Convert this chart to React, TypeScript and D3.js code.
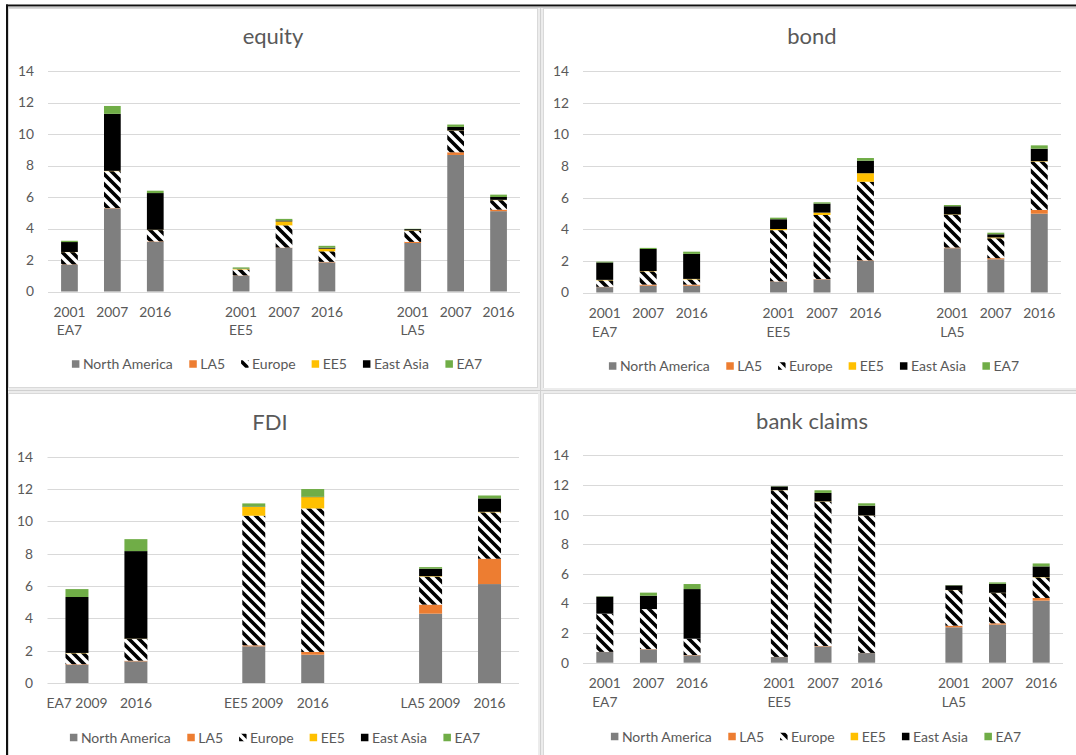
import React from "react";
import * as d3 from "d3";

// Source regions (stack order, bottom to top)
const SERIES = ["North America", "LA5", "Europe", "EE5", "East Asia", "EA7"];
const SERIES_FILL = ["#7f7f7f", "#ed7d31", "url(#europeStripes)", "#ffc000", "#000000", "#70ad47"];

// Destination groups and years on the category axis
const REGIONS = ["EA7", "EE5", "LA5"];
const YEARS_PORTFOLIO = ["2001", "2007", "2016"];
const YEARS_FDI = ["2009", "2016"];
const Y_TICKS = [0, 2, 4, 6, 8, 10, 12, 14];

// Values are listed EA7 (years...), EE5 (years...), LA5 (years...)
// equity
const equityNorthAmerica = [1.7, 5.28, 3.15, 1.0, 2.77, 1.85, 3.08, 8.67, 5.1];
const equityLA5 = [0.02, 0.02, 0.03, 0.02, 0.02, 0.03, 0.07, 0.17, 0.1];
const equityEurope = [0.78, 2.34, 0.72, 0.38, 1.41, 0.67, 0.7, 1.36, 0.6];
const equityEE5 = [0.01, 0.02, 0.02, 0.03, 0.25, 0.17, 0.03, 0.02, 0.02];
const equityEastAsia = [0.63, 3.62, 2.33, 0.02, 0.06, 0.06, 0.08, 0.23, 0.18];
const equityEA7 = [0.08, 0.5, 0.15, 0.08, 0.1, 0.12, 0.02, 0.15, 0.15];

// bond
const bondNorthAmerica = [0.34, 0.43, 0.43, 0.68, 0.83, 2.0, 2.8, 2.1, 4.98];
const bondLA5 = [0.02, 0.07, 0.07, 0.02, 0.02, 0.03, 0.04, 0.07, 0.24];
const bondEurope = [0.41, 0.84, 0.33, 3.24, 4.05, 4.97, 2.06, 1.26, 3.05];
const bondEE5 = [0.03, 0.02, 0.03, 0.07, 0.15, 0.54, 0.03, 0.05, 0.03];
const bondEastAsia = [1.1, 1.39, 1.58, 0.62, 0.57, 0.79, 0.52, 0.2, 0.79];
const bondEA7 = [0.05, 0.07, 0.14, 0.1, 0.08, 0.17, 0.08, 0.1, 0.21];

// FDI
const fdiNorthAmerica = [1.13, 1.34, 2.27, 1.75, 4.29, 6.12];
const fdiLA5 = [0.03, 0.04, 0.06, 0.17, 0.56, 1.57];
const fdiEurope = [0.68, 1.34, 8.02, 8.88, 1.73, 2.87];
const fdiEE5 = [0.02, 0.02, 0.54, 0.7, 0.03, 0.03];
const fdiEastAsia = [3.46, 5.42, 0.02, 0.02, 0.46, 0.83];
const fdiEA7 = [0.49, 0.74, 0.2, 0.48, 0.1, 0.18];

// bank claims
const bankNorthAmerica = [0.72, 0.9, 0.5, 0.38, 1.1, 0.65, 2.39, 2.57, 4.19];
const bankLA5 = [0.01, 0.02, 0.02, 0.01, 0.03, 0.01, 0.11, 0.09, 0.18];
const bankEurope = [2.58, 2.7, 1.1, 11.25, 9.74, 9.27, 2.4, 2.04, 1.39];
const bankEE5 = [0.0, 0.0, 0.0, 0.01, 0.02, 0.01, 0.01, 0.02, 0.02];
const bankEastAsia = [1.15, 0.9, 3.35, 0.25, 0.57, 0.66, 0.31, 0.61, 0.72];
const bankEA7 = [0.02, 0.21, 0.34, 0.02, 0.18, 0.16, 0.02, 0.09, 0.2];

const FONT = "Lato, 'Open Sans', sans-serif";
const TEXT = "#595959";
const GRID = "#d9d9d9";

type Row = { [k: string]: any };

function buildSlots(years: string[]) {
  const slots: { key: string; region?: string; year?: string; first?: boolean }[] = [];
  REGIONS.forEach((r, gi) => {
    if (gi > 0) slots.push({ key: "gap" + gi });
    years.forEach((yr, yi) => slots.push({ key: r + "|" + yr, region: r, year: yr, first: yi === 0 }));
  });
  return slots;
}

function buildRows(years: string[], seriesValues: number[][]): Row[] {
  const rows: Row[] = [];
  let i = 0;
  REGIONS.forEach((r) => {
    years.forEach((yr) => {
      const row: Row = { key: r + "|" + yr };
      SERIES.forEach((s, si) => (row[s] = seriesValues[si][i]));
      rows.push(row);
      i++;
    });
  });
  return rows;
}

let measureCtx: CanvasRenderingContext2D | null = null;
function textWidth(s: string, font: string) {
  if (!measureCtx) measureCtx = document.createElement("canvas").getContext("2d");
  measureCtx!.font = font;
  return measureCtx!.measureText(s).width;
}

type PanelCfg = {
  title: string;
  years: string[];
  values: number[][];
  fdiLabels?: boolean;
  plot: { x0: number; x1: number; y0: number; y1: number };
  titleX: number;
  titleY: number;
  tickX: number;
  row1Y: number;
  row2Y?: number;
  legendY: number;
  legendCx: number;
};

const PANELS: PanelCfg[] = [
  {
    title: "equity",
    years: YEARS_PORTFOLIO,
    values: [equityNorthAmerica, equityLA5, equityEurope, equityEE5, equityEastAsia, equityEA7],
    plot: { x0: 48, x1: 520, y0: 71, y1: 291.5 },
    titleX: 273,
    titleY: 44,
    tickX: 34,
    row1Y: 312,
    row2Y: 330.5,
    legendY: 364,
    legendCx: 277,
  },
  {
    title: "bond",
    years: YEARS_PORTFOLIO,
    values: [bondNorthAmerica, bondLA5, bondEurope, bondEE5, bondEastAsia, bondEA7],
    plot: { x0: 583, x1: 1061, y0: 71, y1: 292.5 },
    titleX: 812,
    titleY: 44,
    tickX: 569,
    row1Y: 313.5,
    row2Y: 332,
    legendY: 366,
    legendCx: 814,
  },
  {
    title: "FDI",
    years: YEARS_FDI,
    values: [fdiNorthAmerica, fdiLA5, fdiEurope, fdiEE5, fdiEastAsia, fdiEA7],
    fdiLabels: true,
    plot: { x0: 47.5, x1: 519, y0: 456.7, y1: 683 },
    titleX: 270,
    titleY: 429.5,
    tickX: 33,
    row1Y: 703.5,
    legendY: 737.5,
    legendCx: 275,
  },
  {
    title: "bank claims",
    years: YEARS_PORTFOLIO,
    values: [bankNorthAmerica, bankLA5, bankEurope, bankEE5, bankEastAsia, bankEA7],
    plot: { x0: 583, x1: 1063, y0: 455.3, y1: 662.7 },
    titleX: 812,
    titleY: 428.5,
    tickX: 569,
    row1Y: 683.5,
    row2Y: 702,
    legendY: 736.5,
    legendCx: 816,
  },
];

const TICK_FONT_SIZE = 13.8;
const LEGEND_FONT_SIZE = 14;
const TITLE_FONT_SIZE = 22;

function Legend({ cx, cy }: { cx: number; cy: number }) {
  const font = `${LEGEND_FONT_SIZE}px ${FONT}`;
  const sq = 7.5;
  const gapText = 3.5;
  const gapItem = 16;
  const widths = SERIES.map((s) => sq + gapText + textWidth(s, font));
  const total = d3.sum(widths) + gapItem * (SERIES.length - 1);
  let x = cx - total / 2;
  const items = SERIES.map((s, i) => {
    const ix = x;
    x += widths[i] + gapItem;
    return (
      <g key={s}>
        <rect x={ix} y={cy - sq / 2} width={sq} height={sq} fill={SERIES_FILL[i]} />
        <text x={ix + sq + gapText} y={cy} dy="0.36em" fontSize={LEGEND_FONT_SIZE} fill={TEXT} fontFamily={FONT}>
          {s}
        </text>
      </g>
    );
  });
  return <g>{items}</g>;
}

function Panel({ cfg }: { cfg: PanelCfg }) {
  const slots = buildSlots(cfg.years);
  const rows = buildRows(cfg.years, cfg.values);
  const x = d3
    .scaleBand<string>()
    .domain(slots.map((s) => s.key))
    .range([cfg.plot.x0, cfg.plot.x1])
    .paddingInner(0.61)
    .paddingOuter(0.305);
  const y = d3.scaleLinear().domain([0, 14]).range([cfg.plot.y1, cfg.plot.y0]);
  const stacked = d3.stack<Row>().keys(SERIES)(rows);

  return (
    <g>
      <text
        x={cfg.titleX}
        y={cfg.titleY}
        textAnchor="middle"
        fontSize={TITLE_FONT_SIZE}
        fill={TEXT}
        fontFamily={FONT}
      >
        {cfg.title}
      </text>
      {Y_TICKS.map((t) => (
        <g key={t}>
          <line x1={cfg.plot.x0} x2={cfg.plot.x1} y1={Math.round(y(t)) + 0.5} y2={Math.round(y(t)) + 0.5} stroke={GRID} strokeWidth={1} />
          <text x={cfg.tickX} y={y(t)} dy="0.36em" textAnchor="end" fontSize={TICK_FONT_SIZE} fill={TEXT} fontFamily={FONT}>
            {t}
          </text>
        </g>
      ))}
      {stacked.map((layer, si) => (
        <g key={layer.key} fill={SERIES_FILL[si]}>
          {layer.map((d) => {
            const key = d.data.key as string;
            const top = y(d[1]);
            const h = y(d[0]) - top;
            if (h <= 0) return null;
            return <rect key={key} x={x(key)} y={top} width={x.bandwidth()} height={h} />;
          })}
        </g>
      ))}
      {slots
        .filter((s) => s.region)
        .map((s) => {
          const cx = (x(s.key) as number) + x.bandwidth() / 2;
          if (cfg.fdiLabels) {
            return (
              <text key={s.key} x={cx} y={cfg.row1Y} dy="0.36em" textAnchor="middle" fontSize={TICK_FONT_SIZE} fill={TEXT} fontFamily={FONT}>
                {s.first ? `${s.region} ${s.year}` : s.year}
              </text>
            );
          }
          return (
            <g key={s.key}>
              <text x={cx} y={cfg.row1Y} dy="0.36em" textAnchor="middle" fontSize={TICK_FONT_SIZE} fill={TEXT} fontFamily={FONT}>
                {s.year}
              </text>
              {s.first && (
                <text x={cx} y={cfg.row2Y} dy="0.36em" textAnchor="middle" fontSize={TICK_FONT_SIZE} fill={TEXT} fontFamily={FONT}>
                  {s.region}
                </text>
              )}
            </g>
          );
        })}
      <Legend cx={cfg.legendCx} cy={cfg.legendY} />
    </g>
  );
}

export default function App() {
  return (
    <svg
      width={1076}
      height={755}
      viewBox="0 0 1076 755"
      style={{ position: "absolute", left: 0, top: 0, background: "#fff" }}
    >
      <defs>
        <pattern id="europeStripes" patternUnits="userSpaceOnUse" width={10} height={10}>
          <rect width={10} height={10} fill="#fff" />
          <path d="M0,0 L10,10 M-5,5 L5,15 M5,-5 L15,5" stroke="#000" strokeWidth={3.6} />
        </pattern>
      </defs>
      <rect width={1076} height={755} fill="#fff" />
      {/* chart frames */}
      <rect x={8.5} y={8.5} width={529} height={379} fill="none" stroke={GRID} />
      <rect x={543.5} y={8.5} width={540} height={380} fill="none" stroke={GRID} />
      <rect x={8.5} y={393.5} width={530} height={370} fill="none" stroke={GRID} />
      <rect x={543.5} y={393.5} width={540} height={370} fill="none" stroke={GRID} />
      {/* gaps between charts */}
      <rect x={538} y={8} width={5} height={747} fill="#ececec" />
      <rect x={8} y={388} width={1068} height={5} fill="#ececec" />
      <line x1={540.5} x2={540.5} y1={8} y2={755} stroke="#d0d0d0" />
      <line x1={8} x2={1076} y1={390.5} y2={390.5} stroke="#d0d0d0" />
      {/* outer selection border */}
      <rect x={6} y={4.5} width={1070} height={2} fill="#111" />
      <line x1={6} x2={1076} y1={7} y2={7} stroke="#9a9a9a" />
      <rect x={6} y={4.5} width={2} height={751} fill="#111" />
      {PANELS.map((p) => (
        <Panel key={p.title} cfg={p} />
      ))}
    </svg>
  );
}
